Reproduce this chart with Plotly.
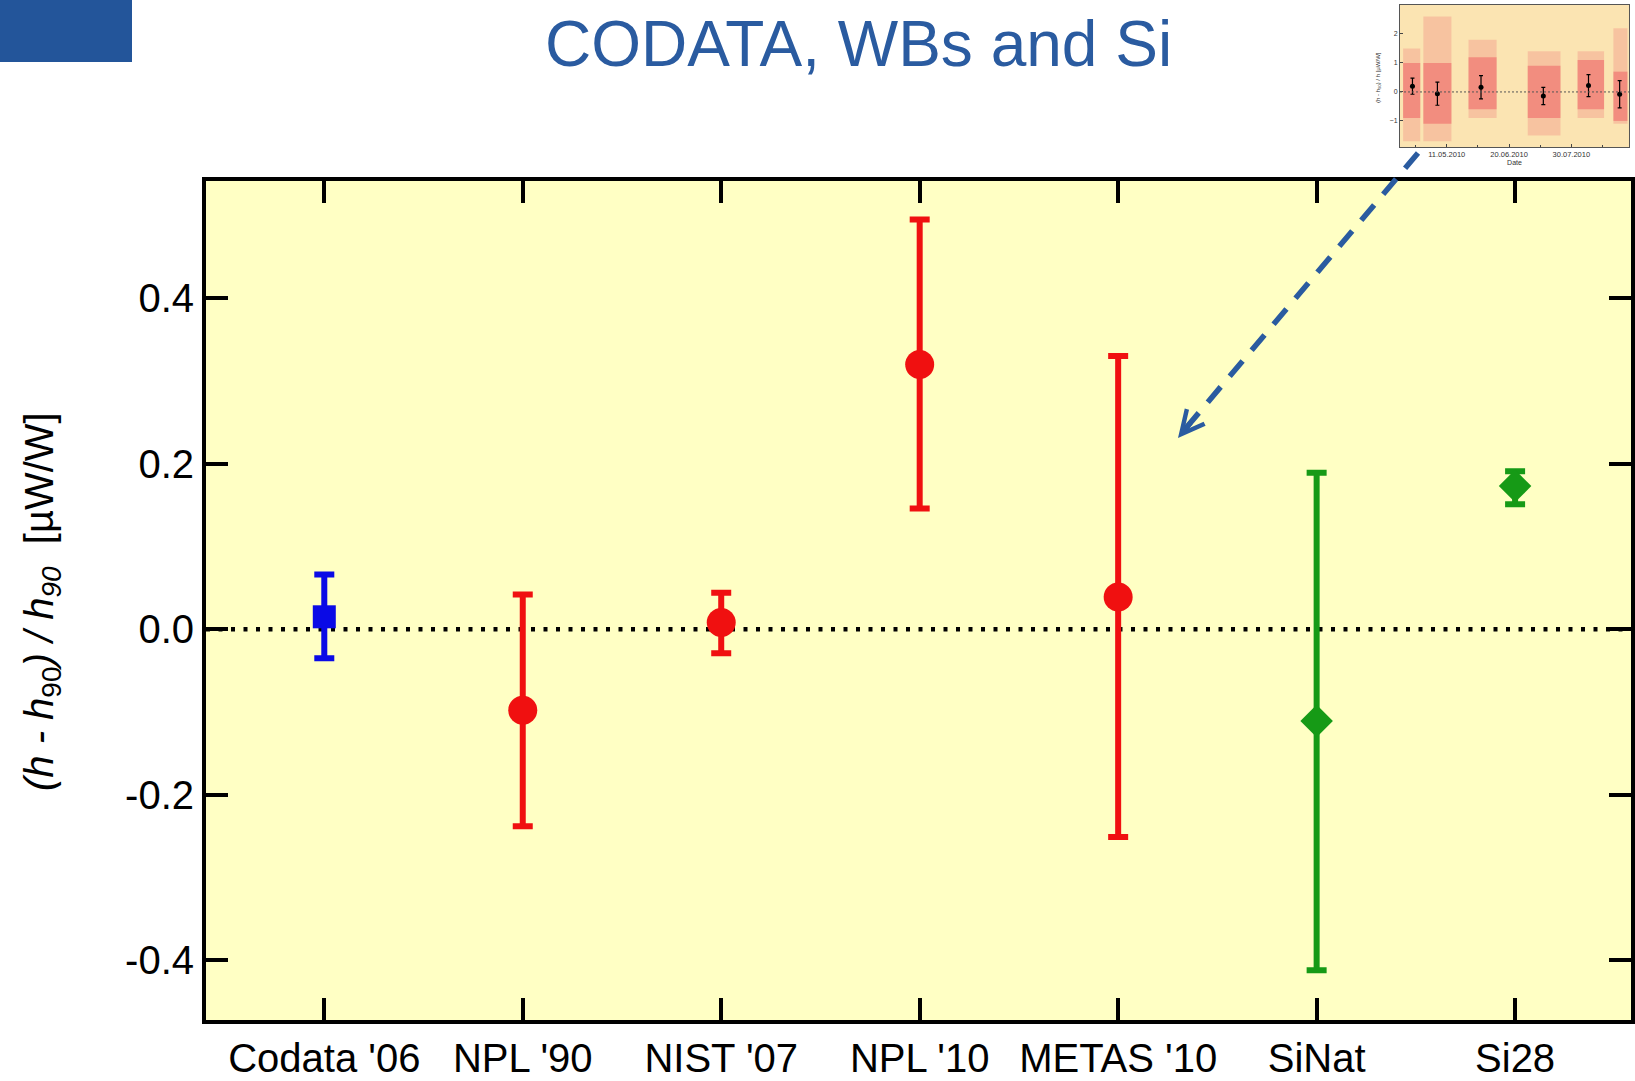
import plotly.graph_objects as go
import pandas as pd

W, H = 1635, 1081

# ---------------- main chart data ----------------
labels = ["Codata '06", "NPL '90", "NIST '07", "NPL '10", "METAS '10", "SiNat", "Si28"]
center = [0.015, -0.098, 0.008, 0.320, 0.039, -0.111, 0.173]
upper = [0.066, 0.042, 0.044, 0.495, 0.330, 0.189, 0.191]
lower = [-0.035, -0.238, -0.029, 0.146, -0.251, -0.412, 0.151]
groups = ["codata", "wb", "wb", "wb", "wb", "si", "si"]

y_ticks = [-0.4, -0.2, 0.0, 0.2, 0.4]
y_ticktext = ["-0.4", "-0.2", "0.0", "0.2", "0.4"]

# ---------------- inset data ----------------
inset_dates = ["2010-04-19", "2010-05-05", "2010-06-02", "2010-07-12", "2010-08-10", "2010-08-30"]
inset_vals = [0.20, -0.06, 0.16, -0.14, 0.22, -0.08]
inset_err = [0.28, 0.40, 0.40, 0.30, 0.38, 0.47]

cluster_start = ["2010-04-13", "2010-04-26", "2010-05-25", "2010-07-02", "2010-08-03", "2010-08-26"]
cluster_end = ["2010-04-24", "2010-05-14", "2010-06-12", "2010-07-23", "2010-08-20", "2010-09-04"]
bulk_low = [-0.9, -1.1, -0.6, -0.9, -0.6, -1.0]
bulk_high = [1.0, 1.0, 1.2, 0.9, 1.1, 0.7]
ext_low = [-1.7, -1.7, -0.9, -1.5, -0.9, -1.1]
ext_high = [1.5, 2.6, 1.8, 1.4, 1.4, 2.2]

inset_yticks = [-1, 0, 1, 2]


def px(x):
    return x / W


def py(y):
    return 1 - y / H


colors = {"codata": "#0a0ae6", "wb": "#f01010", "si": "#169a16"}
symbols = {"codata": "square", "wb": "circle", "si": "diamond"}
sizes = {"codata": 23, "wb": 29, "si": 25}

fig = go.Figure()

for g in ["codata", "wb", "si"]:
    idx = [i for i, gg in enumerate(groups) if gg == g]
    fig.add_trace(go.Scatter(
        x=idx,
        y=[center[i] for i in idx],
        mode="markers",
        marker=dict(symbol=symbols[g], size=sizes[g], color=colors[g], line=dict(width=0)),
        error_y=dict(
            type="data", symmetric=False,
            array=[upper[i] - center[i] for i in idx],
            arrayminus=[center[i] - lower[i] for i in idx],
            color=colors[g], thickness=6, width=10,
        ),
        showlegend=False, xaxis="x", yaxis="y",
    ))

# ---------------- inset traces ----------------
starts = pd.to_datetime(cluster_start)
ends = pd.to_datetime(cluster_end)
mids = [(s + (e - s) / 2) for s, e in zip(starts, ends)]
widths = [(e - s).total_seconds() * 1000 for s, e in zip(starts, ends)]

fig.add_trace(go.Bar(
    x=mids, base=ext_low, y=[h - l for h, l in zip(ext_high, ext_low)],
    width=widths, marker=dict(color="rgba(240,120,120,0.3)", line=dict(width=0)),
    showlegend=False, xaxis="x2", yaxis="y2",
))
fig.add_trace(go.Bar(
    x=mids, base=bulk_low, y=[h - l for h, l in zip(bulk_high, bulk_low)],
    width=widths, marker=dict(color="rgba(238,105,105,0.6)", line=dict(width=0)),
    showlegend=False, xaxis="x2", yaxis="y2",
))
fig.add_trace(go.Scatter(
    x=inset_dates, y=inset_vals, mode="markers",
    marker=dict(color="black", size=5),
    error_y=dict(type="data", array=inset_err, color="black", thickness=1.2, width=2),
    showlegend=False, xaxis="x2", yaxis="y2",
))

font_family = "Liberation Sans, Arial, sans-serif"

fig.update_layout(
    width=W, height=H,
    margin=dict(l=0, r=0, t=0, b=0),
    paper_bgcolor="white",
    plot_bgcolor="#ffffc4",
    barmode="overlay",
    font=dict(family=font_family, color="black"),
    xaxis=dict(
        domain=[px(206), px(1631)],
        range=[-0.596, 6.584],
        tickvals=list(range(len(labels))), ticktext=labels,
        tickfont=dict(size=40, family=font_family, color="black"),
        ticks="inside", ticklen=22, tickwidth=4, tickcolor="black",
        showline=True, linewidth=4, linecolor="black", mirror="ticks",
        showgrid=False, zeroline=False, anchor="y",
    ),
    yaxis=dict(
        domain=[py(1020), py(181)],
        range=[-0.4722, 0.5416],
        tickvals=y_ticks, ticktext=y_ticktext,
        tickfont=dict(size=40, family=font_family, color="black"),
        ticks="inside", ticklen=22, tickwidth=4, tickcolor="black",
        showline=True, linewidth=4, linecolor="black", mirror="ticks",
        showgrid=False, zeroline=False, anchor="x",
    ),
    xaxis2=dict(
        domain=[px(1400), px(1629)],
        type="date",
        range=["2010-04-11", "2010-09-05"],
        tick0="2010-05-11", dtick=40 * 86400000,
        tickformat="%d.%m.%Y",
        tickfont=dict(size=7.5, color="#333333"),
        ticks="inside", ticklen=3, tickwidth=1, tickcolor="#444",
        minor=dict(ticks="inside", ticklen=2, dtick=20 * 86400000, tick0="2010-05-11", tickcolor="#444"),
        showline=True, linewidth=1, linecolor="#555555", mirror=True,
        showgrid=False, zeroline=False, anchor="y2",
        title=dict(text="Date", font=dict(size=7, color="#333333"), standoff=2),
    ),
    yaxis2=dict(
        domain=[py(147), py(5)],
        range=[-1.9, 3.0],
        tickvals=inset_yticks,
        tickfont=dict(size=7, color="#333333"),
        ticks="inside", ticklen=3, tickwidth=1, tickcolor="#444",
        showline=True, linewidth=1, linecolor="#555555", mirror=True,
        showgrid=False, zeroline=False, anchor="x2",
    ),
)

shapes = [
    # blue corner block
    dict(type="rect", xref="paper", yref="paper", x0=0, x1=px(132), y0=py(62), y1=1,
         fillcolor="#23559a", line=dict(width=0), layer="above"),
    # zero reference line (main)
    dict(type="line", xref="x domain", yref="y", x0=0, x1=1, y0=0, y1=0,
         line=dict(color="black", width=4.5, dash="4px,8.5px"), layer="below"),
    # inset background
    dict(type="rect", xref="x2 domain", yref="y2 domain", x0=0, x1=1, y0=0, y1=1,
         fillcolor="#fbe4b2", line=dict(width=0), layer="below"),
    # inset zero line
    dict(type="line", xref="x2 domain", yref="y2", x0=0, x1=1, y0=0, y1=0,
         line=dict(color="#555555", width=1, dash="2px,2px"), layer="above"),
    # dashed arrow shaft
    dict(type="line", xref="paper", yref="paper", x0=px(1418), y0=py(153), x1=px(1186), y1=py(428),
         line=dict(color="#2a5ba0", width=5.5, dash="20px,14px"), layer="above"),
]
fig.update_layout(shapes=shapes)

annotations = [
    dict(text="CODATA, WBs and Si", xref="paper", yref="paper", x=px(858), y=py(44),
         xanchor="center", yanchor="middle", showarrow=False,
         font=dict(size=64, color="#2a5ba0", family=font_family)),
    dict(text="<i>(h - h</i><sub>90</sub><i>) / h</i><sub><i>90</i></sub>  [µW/W]",
         xref="paper", yref="paper", x=px(42), y=py(602), textangle=-90,
         xanchor="center", yanchor="middle", showarrow=False,
         font=dict(size=40, color="black", family=font_family)),
    dict(text="(h - h<sub>90</sub>) / h [µW/W]", xref="paper", yref="paper",
         x=px(1378), y=py(78), textangle=-90, xanchor="center", yanchor="middle",
         showarrow=False, font=dict(size=6, color="#333333", family=font_family)),
    # arrow head
    dict(text="", xref="paper", yref="paper", x=px(1178), y=py(438),
         ax=14, ay=-17, axref="pixel", ayref="pixel",
         showarrow=True, arrowhead=5, arrowsize=0.9, arrowwidth=5, arrowcolor="#2a5ba0"),
]
fig.update_layout(annotations=annotations)

fig.write_html("out.html")
